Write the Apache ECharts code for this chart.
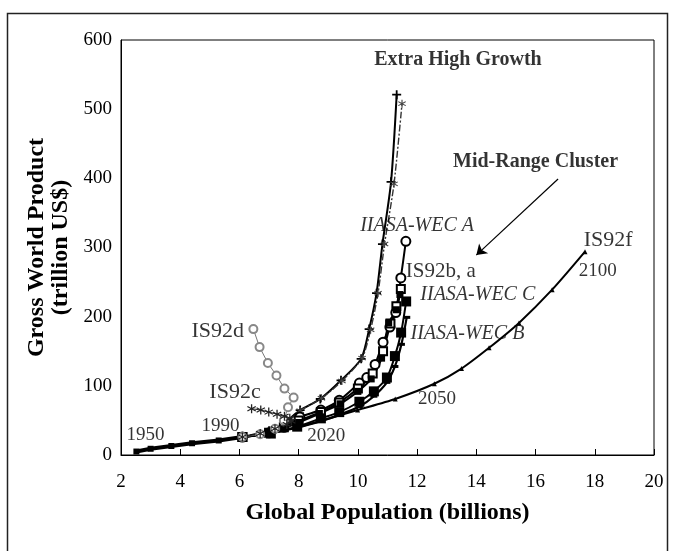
<!DOCTYPE html>
<html>
<head>
<meta charset="utf-8">
<script src="https://cdn.jsdelivr.net/npm/echarts@6/dist/echarts.min.js"></script>
<style>
html,body{margin:0;padding:0;background:#fff;}
#c{width:673px;height:551px;}
</style>
</head>
<body>
<div id="c"></div>
<script>
// ---- data (population in billions, GWP in trillion US$) ----
const xTicks = [2, 4, 6, 8, 10, 12, 14, 16, 18, 20];
const yTicks = [0, 100, 200, 300, 400, 500, 600];

const histPop = [2.52, 3.0, 3.7, 4.4, 5.3, 6.1];
const histGwp = [5, 9, 13, 17, 21, 26];

const is92fPop = [6.1, 7.0, 7.95, 8.8, 9.99, 11.26, 12.58, 13.5, 14.43, 15.44, 16.56, 17.67];
const is92fGwp = [26, 32, 40, 50, 65, 81, 103, 125, 155, 191, 239, 294];

const ehg1Pop = [6.1, 7.0, 7.5, 8.05, 8.73, 9.43, 10.11, 10.38, 10.63, 10.83, 11.12, 11.31];
const ehg1Gwp = [26, 35, 46, 65, 81, 108, 139, 182, 234, 305, 395, 521];

const ehg2Pop = [6.1, 7.0, 7.55, 8.05, 8.77, 9.46, 10.14, 10.43, 10.68, 10.9, 11.22, 11.49];
const ehg2Gwp = [26, 34, 45, 64, 82, 107, 140, 181, 234, 305, 392, 508];

const wecAPop = [6.1, 7.0, 7.5, 8.04, 8.75, 9.37, 10.05, 10.3, 10.58, 10.85, 11.08, 11.28, 11.45, 11.62];
const wecAGwp = [26, 32, 40, 55, 65, 79, 104, 112, 131, 163, 185, 206, 256, 309];

const is92bPop = [6.1, 7.0, 7.5, 8.0, 8.75, 9.37, 10.0, 10.5, 10.85, 11.1, 11.3, 11.45];
const is92bGwp = [26, 32, 40, 50, 62, 76, 96, 118, 150, 190, 215, 240];

const is92aPop = [6.1, 7.0, 7.5, 8.0, 8.7, 9.4, 10.0, 10.45, 10.8, 11.04, 11.3, 11.42];
const is92aGwp = [26, 31, 38, 47, 60, 74, 92, 110, 140, 191, 210, 232];

const wecCPop = [6.1, 7.06, 7.95, 8.75, 9.37, 10.05, 10.54, 10.98, 11.25, 11.46, 11.63];
const wecCGwp = [26, 31, 41, 53, 62, 77, 92, 112, 143, 177, 222];

const wecBPop = [6.1, 7.0, 7.9, 8.75, 9.37, 10.05, 10.54, 10.98, 11.25, 11.47, 11.65];
const wecBGwp = [26, 31, 39, 49, 58, 70, 85, 105, 128, 160, 199];

const is92dPop = [6.1, 6.7, 7.2, 7.5, 7.64, 7.83, 7.52, 7.25, 6.96, 6.68, 6.47];
const is92dGwp = [26, 30, 38, 50, 69, 83, 96, 115, 133, 156, 182];

const is92cPop = [6.1, 6.7, 7.2, 7.6, 7.75, 7.7, 7.52, 7.27, 6.99, 6.72, 6.41];
const is92cGwp = [26, 31, 38, 44, 49, 53, 56, 59, 62, 65, 67];

// annotation texts and anchor (data coords)
const noteText = ["Extra High Growth", "Mid-Range Cluster", "IIASA-WEC A", "IS92b, a", "IIASA-WEC C", "IIASA-WEC B", "IS92f", "2100", "IS92d", "IS92c", "1950", "1990", "2020", "2050"];
const noteX = [13.38, 16.0, 12.0, 12.8, 14.05, 13.7, 18.45, 18.1, 5.27, 5.85, 2.83, 5.36, 8.93, 12.67];
const noteY = [571, 424, 331, 266, 232, 175, 311, 266, 179, 91, 29, 42, 27, 81];
const noteKind = ["head", "head", "ital", "mid", "ital", "ital", "big", "norm", "big", "big", "norm", "norm", "norm", "norm"];
const arrowFrom = [16.76, 399];
const arrowTo = [14.0, 289];

// ---- build ----
const zip = (a, b) => a.map((v, i) => [v, b[i]]);
const SERIF = '"Liberation Serif","DejaVu Serif",serif';
const plus = 'path://M4,0h2v4h4v2h-4v4h-2v-4h-4v-2h4z';
const aster = 'path://M4.4,0h1.2v3.6l3-1.8l0.6,1l-3.1,1.8l3.1,1.8l-0.6,1l-3-1.8v3.6h-1.2v-3.6l-3,1.8l-0.6-1l3.1-1.8l-3.1-1.8l0.6-1l3,1.8z';

function line(name, pop, gwp, o) {
  return Object.assign({
    name: name, type: 'line', data: zip(pop, gwp), smooth: 0.25,
    showSymbol: true, symbol: 'circle', symbolSize: 5,
    lineStyle: { color: '#000', width: 2 },
    itemStyle: { color: '#000' },
    z: 3, animation: false
  }, o || {});
}

const styles = {
  head: { fontFamily: SERIF, fontWeight: 'bold', fontSize: 20, color: '#000' },
  ital: { fontFamily: SERIF, fontStyle: 'italic', fontSize: 20, color: '#000' },
  mid: { fontFamily: SERIF, fontSize: 21, color: '#000' },
  norm: { fontFamily: SERIF, fontSize: 19, color: '#000' },
  big: { fontFamily: SERIF, fontSize: 22, color: '#000' }
};

const noteData = noteText.map((t, i) => ({
  value: [noteX[i], noteY[i]], name: t,
  label: Object.assign({ show: true, position: 'inside', formatter: t }, styles[noteKind[i]])
}));

const series = [
  line('history', histPop, histGwp, { smooth: false, symbol: 'rect', symbolSize: 6, lineStyle: { color: '#000', width: 4 } }),
  line('IS92f', is92fPop, is92fGwp, { symbol: 'triangle', symbolSize: 5 }),
  line('IS92e', ehg1Pop, ehg1Gwp, { symbol: plus, symbolSize: 9 }),
  line('Extra', ehg2Pop, ehg2Gwp, { symbol: aster, symbolSize: 8, lineStyle: { color: '#333', width: 1.4, type: [7, 2, 2, 2] }, itemStyle: { color: '#444' } }),
  line('IIASA-WEC A', wecAPop, wecAGwp, { symbol: 'emptyCircle', symbolSize: 9, itemStyle: { color: '#000', borderWidth: 2.5 } }),
  line('IS92b', is92bPop, is92bGwp, { symbol: 'emptyRect', symbolSize: 8, itemStyle: { color: '#000', borderWidth: 2.5 } }),
  line('IS92a', is92aPop, is92aGwp, { symbol: 'rect', symbolSize: 7 }),
  line('IIASA-WEC C', wecCPop, wecCGwp, { symbol: 'rect', symbolSize: 10 }),
  line('IIASA-WEC B', wecBPop, wecBGwp, { symbol: 'rect', symbolSize: [7, 3], lineStyle: { color: '#000', width: 2.2 } }),
  line('IS92d', is92dPop, is92dGwp, { smooth: false, symbol: 'emptyCircle', symbolSize: 8, lineStyle: { color: '#777', width: 1 }, itemStyle: { color: '#888', borderWidth: 1.5 } }),
  line('IS92c', is92cPop, is92cGwp, { smooth: false, symbol: aster, symbolSize: 9, lineStyle: { color: '#222', width: 1 }, itemStyle: { color: '#222' } }),
  {
    name: 'notes', type: 'scatter', data: noteData, symbolSize: 0, z: 10, animation: false,
    silent: true,
    markLine: {
      silent: true, animation: false, symbol: ['none', 'arrow'], symbolSize: 10,
      label: { show: false },
      lineStyle: { color: '#000', width: 1.2, type: 'solid' },
      data: [[{ coord: arrowFrom }, { coord: arrowTo }]]
    }
  }
];

const chart = echarts.init(document.getElementById('c'), null, { renderer: 'canvas' });
chart.setOption({
  backgroundColor: '#fff',
  animation: false,
  grid: { left: 121, right: 19, top: 40, bottom: 96, show: true, borderColor: '#000', borderWidth: 1, backgroundColor: 'transparent' },
  xAxis: {
    type: 'value', min: xTicks[0], max: xTicks[xTicks.length - 1], interval: 2,
    name: 'Global Population (billions)', nameLocation: 'middle', nameGap: 46,
    nameTextStyle: { fontFamily: SERIF, fontWeight: 'bold', fontSize: 24, color: '#000' },
    axisLine: { show: true, lineStyle: { color: '#000' } },
    axisTick: { show: true, inside: true, length: 6, lineStyle: { color: '#000' } },
    axisLabel: { margin: 18, fontFamily: SERIF, fontSize: 19, color: '#000' },
    splitLine: { show: false }
  },
  yAxis: {
    type: 'value', min: yTicks[0], max: yTicks[yTicks.length - 1], interval: 100,
    name: 'Gross World Product\n(trillion US$)', nameLocation: 'middle', nameGap: 34,
    nameTextStyle: { fontFamily: SERIF, fontWeight: 'bold', fontSize: 24, color: '#000', lineHeight: 24 },
    axisLine: { show: true, lineStyle: { color: '#000' } },
    axisTick: { show: false },
    axisLabel: { margin: 9, fontFamily: SERIF, fontSize: 19, color: '#000' },
    splitLine: { show: false }
  },
  graphic: [{
    type: 'polyline', silent: true,
    shape: { points: [[7.5, 551], [7.5, 13.5], [667.5, 13.5], [667.5, 551]] },
    style: { stroke: '#222', lineWidth: 1.5, fill: null }
  }],
  series: series
});
</script>
</body>
</html>
